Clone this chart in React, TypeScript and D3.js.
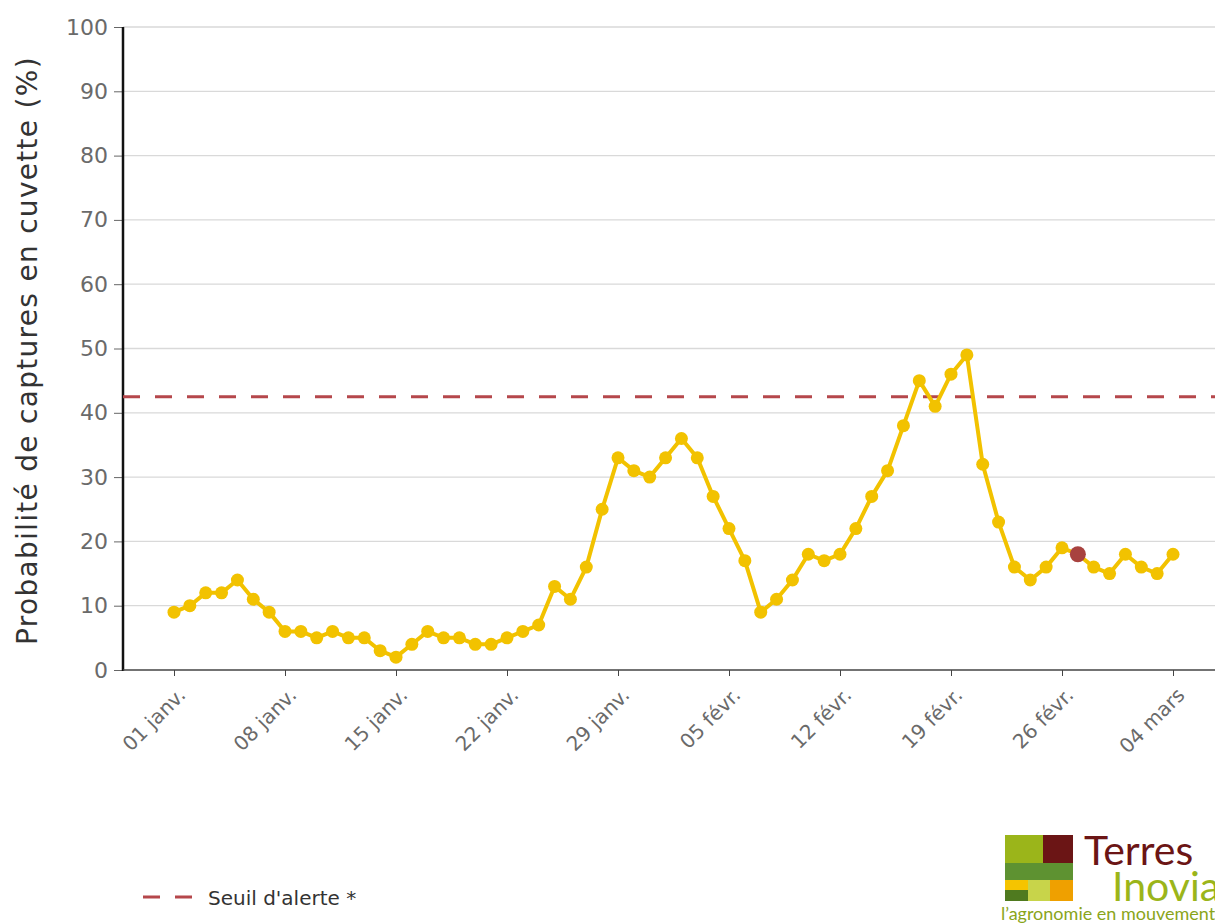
import React, { useRef, useEffect } from "react";
import * as d3 from "d3";

// daily probability values, 01 janv. -> 04 mars (2024)
const startDate = "2024-01-01";
const values = [
  9, 10, 12, 12, 14, 11, 9, 6, 6, 5, 6, 5, 5, 3, 2, 4, 6, 5, 5, 4, 4, 5, 6, 7,
  13, 11, 16, 25, 33, 31, 30, 33, 36, 33, 27, 22, 17, 9, 11, 14, 18, 17, 18, 22,
  27, 31, 38, 45, 41, 46, 49, 32, 23, 16, 14, 16, 19, 18, 16, 15, 18, 16, 15, 18,
];
const highlightDate = "2024-02-27";
const threshold = 42.5;

const tickDates = [
  "2024-01-01", "2024-01-08", "2024-01-15", "2024-01-22", "2024-01-29",
  "2024-02-05", "2024-02-12", "2024-02-19", "2024-02-26", "2024-03-04",
];
const tickLabels = [
  "01 janv.", "08 janv.", "15 janv.", "22 janv.", "29 janv.",
  "05 févr.", "12 févr.", "19 févr.", "26 févr.", "04 mars",
];
const yTicks = [0, 10, 20, 30, 40, 50, 60, 70, 80, 90, 100];

const FONT = "'DejaVu Sans', sans-serif";
const LOGO_FONT = "Lato, sans-serif";

function App() {
  const ref = useRef(null);

  useEffect(() => {
    const svg = d3.select(ref.current);
    svg.selectAll("*").remove();

    const left = 123;
    const right = 1215;
    const top = 27;
    const bottom = 670;

    const day0 = new Date(startDate + "T00:00:00Z");
    const data = values.map((v, i) => ({
      date: d3.utcDay.offset(day0, i),
      value: v,
    }));

    const x = d3
      .scaleUtc()
      .domain([day0, new Date("2024-03-04T00:00:00Z")])
      .range([174, 1173]);
    const y = d3.scaleLinear().domain([0, 100]).range([bottom, top]);

    // grid
    svg
      .append("g")
      .selectAll("line")
      .data(yTicks.filter((t) => t > 0))
      .enter()
      .append("line")
      .attr("x1", left)
      .attr("x2", right)
      .attr("y1", (d) => y(d))
      .attr("y2", (d) => y(d))
      .attr("stroke", "#d9d9d9")
      .attr("stroke-width", 1.3);

    // y axis
    const yAxisG = svg
      .append("g")
      .attr("transform", `translate(${left},0)`)
      .call(d3.axisLeft(y).tickValues(yTicks).tickSize(9).tickPadding(6));
    yAxisG.select(".domain").remove();
    yAxisG.selectAll("line").attr("stroke", "#666");
    yAxisG
      .selectAll("text")
      .attr("fill", "#6a6a6a")
      .style("font-family", FONT)
      .style("font-size", "22px");
    svg
      .append("line")
      .attr("x1", left)
      .attr("x2", left)
      .attr("y1", top)
      .attr("y2", bottom + 1)
      .attr("stroke", "#111")
      .attr("stroke-width", 2.5);

    // x axis
    const xAxisG = svg
      .append("g")
      .attr("transform", `translate(0,${bottom})`)
      .call(
        d3
          .axisBottom(x)
          .tickValues(tickDates.map((d) => new Date(d + "T00:00:00Z")))
          .tickFormat((d, i) => tickLabels[i])
          .tickSize(6)
      );
    xAxisG.select(".domain").remove();
    xAxisG.selectAll("line").attr("stroke", "#444");
    xAxisG
      .selectAll("text")
      .attr("fill", "#6a6a6a")
      .style("font-family", FONT)
      .style("font-size", "20px")
      .style("text-anchor", "end")
      .attr("dy", "0")
      .attr("transform", "translate(6,20) rotate(-45)");
    svg
      .append("line")
      .attr("x1", left)
      .attr("x2", right)
      .attr("y1", bottom)
      .attr("y2", bottom)
      .attr("stroke", "#444")
      .attr("stroke-width", 1.5);

    // axis title
    svg
      .append("text")
      .attr("transform", `translate(37,${(top + bottom) / 2 + 2}) rotate(-90)`)
      .attr("text-anchor", "middle")
      .attr("fill", "#333")
      .style("font-family", FONT)
      .style("font-size", "28px")
      .style("letter-spacing", "1.3px")
      .text("Probabilité de captures en cuvette (%)");

    // threshold
    svg
      .append("line")
      .attr("x1", left)
      .attr("x2", right)
      .attr("y1", y(threshold))
      .attr("y2", y(threshold))
      .attr("stroke", "#b5474b")
      .attr("stroke-width", 3)
      .attr("stroke-dasharray", "17,15");

    // series line
    const line = d3
      .line()
      .x((d) => x(d.date))
      .y((d) => y(d.value));
    svg
      .append("path")
      .datum(data)
      .attr("d", line)
      .attr("fill", "none")
      .attr("stroke", "#f2c200")
      .attr("stroke-width", 4)
      .attr("stroke-linejoin", "round");

    svg
      .append("g")
      .selectAll("circle")
      .data(data)
      .enter()
      .append("circle")
      .attr("cx", (d) => x(d.date))
      .attr("cy", (d) => y(d.value))
      .attr("r", (d) =>
        d.date.toISOString().slice(0, 10) === highlightDate ? 8 : 6.5
      )
      .attr("fill", (d) =>
        d.date.toISOString().slice(0, 10) === highlightDate ? "#a8423f" : "#f2c200"
      );

    // legend
    svg
      .append("line")
      .attr("x1", 143)
      .attr("x2", 192)
      .attr("y1", 897)
      .attr("y2", 897)
      .attr("stroke", "#b5474b")
      .attr("stroke-width", 3)
      .attr("stroke-dasharray", "17,15");
    svg
      .append("text")
      .attr("x", 208)
      .attr("y", 905)
      .attr("fill", "#333")
      .style("font-family", FONT)
      .style("font-size", "20px")
      .text("Seuil d'alerte *");

    // logo
    const logo = svg.append("g");
    const blocks = [
      [1005, 835, 38, 28, "#9bb51a"],
      [1043, 835, 30, 28, "#6b1515"],
      [1005, 863, 68, 17, "#5e9231"],
      [1005, 880, 23, 10, "#f5c400"],
      [1005, 890, 23, 11, "#4f7a1f"],
      [1028, 880, 22, 21, "#c8d44a"],
      [1050, 880, 23, 21, "#efa000"],
    ];
    blocks.forEach(([bx, by, bw, bh, c]) => {
      logo
        .append("rect")
        .attr("x", bx)
        .attr("y", by)
        .attr("width", bw)
        .attr("height", bh)
        .attr("fill", c);
    });
    logo
      .append("text")
      .attr("x", 1084)
      .attr("y", 865)
      .attr("fill", "#6b1515")
      .style("font-family", LOGO_FONT)
      .style("font-size", "41px")
      .text("Terres");
    logo
      .append("text")
      .attr("x", 1112)
      .attr("y", 901)
      .attr("fill", "#9bb51a")
      .style("font-family", LOGO_FONT)
      .style("font-size", "41px")
      .text("Inovia");
    logo
      .append("text")
      .attr("x", 1001)
      .attr("y", 920)
      .attr("fill", "#8aa51a")
      .style("font-family", LOGO_FONT)
      .style("font-size", "18px")
      .text("l’agronomie en mouvement");
  });

  return (
    <div>
      <svg
        ref={ref}
        width="1215"
        height="924"
        style={{ position: "fixed", left: 0, top: 0, background: "#fff" }}
      ></svg>
    </div>
  );
}

export default App;
